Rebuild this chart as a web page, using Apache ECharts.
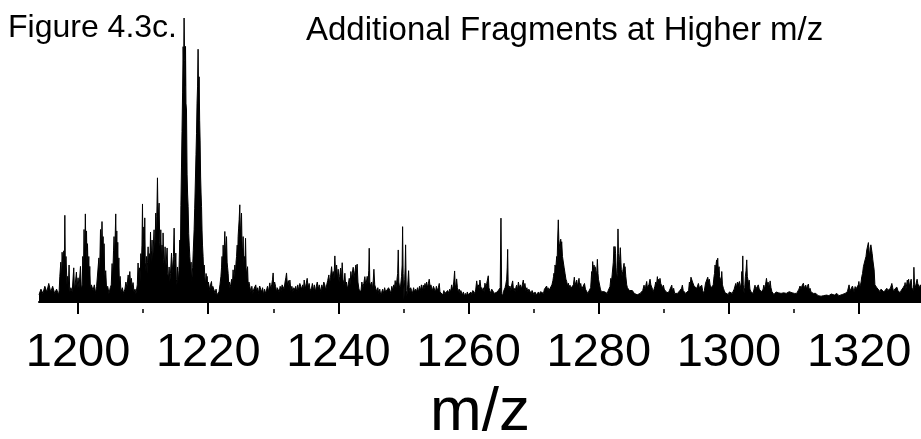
<!DOCTYPE html>
<html>
<head>
<meta charset="utf-8">
<title>Figure 4.3c</title>
<script src="https://cdn.jsdelivr.net/npm/echarts@6/dist/echarts.min.js"></script>
<style>
  html, body { margin: 0; padding: 0; background: #fff; }
  #chart { width: 921px; height: 439px; }
</style>
</head>
<body>
<div id="chart"></div>
<script>
// spectrum: [m/z, relative intensity %]
var lowMassPeaks = [
  [1194.0, 2.5], [1194.3, 4.5], [1194.6, 3], [1194.9, 5.5], [1195.2, 3.5], [1195.5, 6.5], [1195.8, 3.5],
  [1196.1, 5.5], [1196.4, 3], [1196.7, 4.5], [1197.0, 2.5], [1197.1, 4], [1197.2, 9], [1197.35, 14],
  [1197.45, 8], [1197.55, 17.5], [1197.7, 12], [1197.8, 18], [1197.9, 10], [1197.97, 30.5], [1198.05, 12],
  [1198.15, 16], [1198.3, 6], [1198.4, 9], [1198.5, 4], [1198.62, 13], [1198.72, 3.5], [1198.9, 5],
  [1199.1, 3.5], [1199.34, 12], [1199.45, 4], [1199.6, 7], [1199.75, 10.5], [1199.85, 5], [1200.0, 8.5],
  [1200.15, 5], [1200.37, 12.5], [1200.5, 4.5], [1200.65, 6], [1200.72, 16], [1200.82, 9], [1200.92, 25.5],
  [1201.02, 14], [1201.12, 31], [1201.2, 18], [1201.3, 25], [1201.38, 12], [1201.45, 20.5], [1201.55, 10],
  [1201.65, 16], [1201.72, 8], [1201.8, 12.5], [1201.9, 4.5], [1202.05, 6], [1202.3, 4], [1202.5, 6],
  [1202.7, 3], [1202.85, 5.5], [1203.05, 6], [1203.2, 15.5], [1203.3, 9], [1203.45, 25.5], [1203.55, 16],
  [1203.68, 28.3], [1203.76, 19], [1203.85, 23], [1203.93, 12], [1204.0, 20.5], [1204.1, 9], [1204.25, 11],
  [1204.38, 4.5], [1204.55, 5.5], [1204.75, 3], [1204.95, 5], [1205.1, 6], [1205.23, 13.5], [1205.32, 8],
  [1205.45, 18], [1205.53, 23], [1205.62, 15], [1205.79, 31], [1205.87, 17], [1205.95, 25], [1206.03, 14],
  [1206.1, 21], [1206.18, 10], [1206.27, 15.5], [1206.35, 6], [1206.46, 9], [1206.6, 3.5], [1206.8, 5],
  [1207.0, 3], [1207.2, 4.5], [1207.35, 7], [1207.5, 5], [1207.7, 9.5], [1207.8, 6.5], [1207.95, 10.7],
  [1208.05, 7], [1208.2, 8.3], [1208.3, 5], [1208.45, 6.8], [1208.6, 3.5], [1208.75, 4.5], [1208.9, 3]
];

var mainCluster = [
  [1209.1, 6], [1209.22, 13.7], [1209.32, 8], [1209.45, 12], [1209.55, 7], [1209.64, 17], [1209.72, 11],
  [1209.82, 20], [1209.9, 34.5], [1209.97, 18], [1210.05, 22], [1210.1, 26.4], [1210.17, 16], [1210.25, 29.6],
  [1210.33, 14], [1210.42, 11], [1210.51, 16], [1210.6, 10], [1210.68, 14], [1210.76, 19.4], [1210.85, 12],
  [1210.95, 17], [1211.05, 13], [1211.13, 24.6], [1211.22, 14], [1211.3, 18], [1211.37, 21.8], [1211.45, 13],
  [1211.55, 19], [1211.68, 25.4], [1211.76, 17], [1211.85, 22], [1211.94, 31.3], [1212.02, 20], [1212.1, 30],
  [1212.2, 43.7], [1212.3, 28], [1212.38, 32], [1212.45, 34.8], [1212.55, 21], [1212.63, 18], [1212.71, 25.4],
  [1212.8, 15], [1212.9, 20], [1213.0, 14], [1213.06, 24.3], [1213.15, 15], [1213.25, 12], [1213.37, 19.4],
  [1213.45, 11], [1213.55, 14], [1213.68, 19], [1213.78, 10], [1213.88, 8], [1213.99, 12.3], [1214.1, 7],
  [1214.2, 10], [1214.36, 17.2], [1214.45, 10], [1214.55, 13], [1214.65, 16], [1214.76, 26], [1214.85, 14],
  [1214.92, 12], [1215.02, 17.2], [1215.1, 8], [1215.2, 6], [1215.28, 12.3], [1215.4, 7], [1215.5, 11],
  [1215.63, 21.8], [1215.72, 16], [1215.8, 34], [1215.89, 47.5], [1215.97, 60], [1216.06, 73.6], [1216.14, 89.9],
  [1216.22, 82], [1216.29, 100], [1216.37, 85], [1216.45, 76], [1216.51, 90], [1216.58, 70], [1216.66, 67.6],
  [1216.75, 45], [1216.83, 38], [1216.91, 33.6], [1217.0, 24], [1217.08, 20], [1217.17, 16], [1217.27, 12],
  [1217.37, 14], [1217.45, 7], [1217.52, 9], [1217.6, 12], [1217.7, 18], [1217.83, 25.4], [1217.92, 33],
  [1218.04, 44], [1218.12, 52], [1218.2, 59.4], [1218.28, 70], [1218.36, 76], [1218.44, 89], [1218.52, 72],
  [1218.6, 79.3], [1218.68, 64], [1218.75, 57], [1218.83, 44], [1218.9, 38], [1218.97, 33.6], [1219.05, 25],
  [1219.12, 20], [1219.21, 16], [1219.3, 10], [1219.38, 13], [1219.47, 9], [1219.57, 6], [1219.67, 10],
  [1219.75, 7], [1219.83, 9], [1219.93, 5], [1220.02, 7], [1220.14, 6.7], [1220.25, 4], [1220.35, 6],
  [1220.5, 7.2], [1220.6, 4], [1220.7, 5.5], [1220.9, 5.4], [1221.05, 3], [1221.2, 4.5], [1221.35, 2.5],
  [1221.52, 1.9], [1221.65, 3.5], [1221.8, 6], [1221.95, 9], [1222.04, 12], [1222.12, 16], [1222.2, 11],
  [1222.29, 20], [1222.38, 14], [1222.46, 19], [1222.55, 24.8], [1222.63, 16], [1222.72, 20], [1222.81, 23],
  [1222.9, 14], [1222.98, 12], [1223.06, 10], [1223.15, 6], [1223.25, 7], [1223.32, 5], [1223.45, 6],
  [1223.6, 8], [1223.72, 6], [1223.82, 11.3], [1223.92, 7], [1224.0, 10], [1224.09, 13], [1224.18, 9],
  [1224.27, 14], [1224.35, 16], [1224.45, 20], [1224.52, 15], [1224.59, 23], [1224.67, 26], [1224.75, 29],
  [1224.85, 34.2], [1224.93, 24], [1225.02, 27], [1225.11, 31.3], [1225.2, 19], [1225.28, 18], [1225.36, 23],
  [1225.45, 13], [1225.55, 16], [1225.64, 14], [1225.73, 22.4], [1225.82, 12], [1225.92, 9], [1226.04, 12.4],
  [1226.15, 5], [1226.25, 7], [1226.39, 5.4]
];

var midRange = [
  [1226.55, 3.5], [1226.7, 5.5], [1226.85, 3], [1227.0, 4.5], [1227.16, 4.2], [1227.3, 6], [1227.45, 3.5],
  [1227.6, 5], [1227.75, 3], [1227.9, 5.6], [1228.08, 5.4], [1228.2, 3.5], [1228.35, 5], [1228.5, 2.5],
  [1228.65, 4.5], [1228.8, 3], [1228.96, 4.2], [1229.1, 5.5], [1229.25, 3.5], [1229.46, 6.7], [1229.6, 4.5],
  [1229.75, 6], [1229.88, 8], [1229.97, 10.2], [1230.07, 5], [1230.2, 7], [1230.34, 5.5], [1230.5, 3.5],
  [1230.6, 5], [1230.74, 5.4], [1230.9, 3.5], [1231.05, 5.5], [1231.2, 4], [1231.35, 6], [1231.51, 6.7],
  [1231.65, 4.5], [1231.8, 7], [1231.92, 8.5], [1232.03, 10.2], [1232.15, 6], [1232.3, 7.5], [1232.45, 5],
  [1232.54, 7.7], [1232.7, 4], [1232.85, 5.5], [1233.0, 3.5], [1233.15, 5], [1233.31, 4.2], [1233.45, 5.5],
  [1233.6, 3.5], [1233.75, 6], [1233.9, 4], [1234.07, 6.5], [1234.23, 7.2], [1234.35, 4.5], [1234.5, 6],
  [1234.62, 4], [1234.74, 7.7], [1234.9, 4.5], [1235.05, 6.5], [1235.2, 8.3], [1235.35, 5], [1235.5, 6.5],
  [1235.65, 4], [1235.87, 4.9], [1236.0, 6.5], [1236.15, 4], [1236.3, 6], [1236.45, 3.5], [1236.6, 5.5],
  [1236.75, 7], [1236.9, 4.5], [1237.05, 6], [1237.15, 5.6], [1237.3, 3.5], [1237.45, 6], [1237.6, 4.5],
  [1237.75, 7], [1237.92, 5.9], [1238.05, 4], [1238.2, 6], [1238.35, 7.5], [1238.53, 9.5], [1238.65, 6.5],
  [1238.78, 8.5], [1238.95, 12.4], [1239.07, 9], [1239.2, 10.7], [1239.32, 8], [1239.45, 16.2], [1239.58, 9],
  [1239.72, 13], [1239.85, 8], [1239.96, 11.5], [1240.1, 7], [1240.2, 9], [1240.33, 11.9], [1240.45, 7.5],
  [1240.58, 13.8], [1240.7, 8], [1240.85, 6], [1240.99, 10.1], [1241.12, 5.5], [1241.25, 7], [1241.35, 4.5],
  [1241.5, 6], [1241.66, 8.3], [1241.8, 6], [1241.91, 10.7], [1242.02, 8], [1242.15, 10.5], [1242.27, 12.2],
  [1242.4, 8.5], [1242.55, 11], [1242.69, 13], [1242.8, 10], [1242.88, 13.3], [1243.0, 7], [1243.15, 4.5],
  [1243.3, 4.8], [1243.45, 3.5], [1243.6, 7], [1243.75, 5], [1243.9, 6.5], [1244.06, 8.9], [1244.2, 6],
  [1244.3, 7], [1244.42, 9], [1244.55, 6.5], [1244.66, 11], [1244.73, 18.9], [1244.82, 7], [1244.95, 5.5],
  [1245.1, 7], [1245.22, 4.5], [1245.35, 7.5], [1245.45, 11.5], [1245.58, 6], [1245.76, 5.9], [1245.9, 3.5],
  [1246.05, 5], [1246.2, 3], [1246.35, 4.5], [1246.5, 2.5], [1246.63, 3.3], [1246.8, 4.5], [1246.95, 3],
  [1247.1, 5], [1247.25, 3.5], [1247.4, 4], [1247.55, 3], [1247.7, 5], [1247.91, 4], [1248.05, 3],
  [1248.2, 5.5], [1248.35, 4], [1248.5, 6], [1248.6, 4.5], [1248.72, 7.5], [1248.85, 5], [1249.0, 8],
  [1249.1, 10], [1249.19, 18.3], [1249.28, 7], [1249.4, 5], [1249.56, 5.9], [1249.7, 9], [1249.79, 13],
  [1249.86, 26.5], [1249.94, 10], [1250.06, 0.7], [1250.18, 8], [1250.25, 12], [1250.32, 20.1], [1250.42, 4],
  [1250.52, 2], [1250.65, 6], [1250.78, 11], [1250.88, 5], [1251.0, 3.5], [1251.1, 5], [1251.24, 4],
  [1251.38, 3], [1251.55, 5], [1251.7, 3.5], [1251.85, 4.5], [1252.01, 3.6], [1252.15, 5], [1252.3, 3.5],
  [1252.45, 5.5], [1252.6, 4], [1252.75, 6], [1252.9, 4], [1253.03, 5.9], [1253.15, 4.5], [1253.3, 6.5],
  [1253.42, 5], [1253.55, 7], [1253.7, 5], [1253.82, 6.5], [1253.95, 8], [1254.1, 5], [1254.2, 6],
  [1254.32, 5.9], [1254.45, 4], [1254.6, 5.5], [1254.75, 4.8], [1254.9, 3.5], [1255.05, 5.5], [1255.2, 4],
  [1255.35, 5], [1255.49, 6.5], [1255.6, 3.5], [1255.75, 4], [1255.9, 3.6], [1256.05, 2.5], [1256.2, 4],
  [1256.35, 3], [1256.5, 3.5], [1256.65, 2.5], [1256.8, 4], [1256.95, 3], [1257.1, 4.5], [1257.25, 3.5],
  [1257.39, 6], [1257.5, 4], [1257.62, 5.5], [1257.72, 7], [1257.85, 10.9], [1257.95, 5], [1258.05, 6],
  [1258.16, 8.1], [1258.28, 5], [1258.4, 3.5], [1258.55, 4.5], [1258.7, 3], [1258.8, 4], [1258.93, 3.6],
  [1259.05, 2.5], [1259.2, 3.5], [1259.35, 2], [1259.5, 3], [1259.65, 2], [1259.8, 3.5], [1259.95, 2.5],
  [1260.2, 2], [1260.35, 3.5], [1260.5, 2.5], [1260.65, 4], [1260.8, 3.6], [1260.95, 3], [1261.1, 4.5],
  [1261.24, 7.4], [1261.38, 5], [1261.5, 6], [1261.62, 4.5], [1261.74, 7.7], [1261.87, 5.4], [1262.0, 5.4],
  [1262.12, 4], [1262.25, 5], [1262.38, 3.5], [1262.51, 6.6], [1262.65, 5], [1262.78, 6.5], [1262.9, 7],
  [1263.02, 9.2], [1263.12, 5], [1263.25, 4], [1263.4, 3], [1263.55, 4.5], [1263.79, 4], [1263.95, 3],
  [1264.1, 3.5], [1264.25, 2.5], [1264.4, 3.5], [1264.55, 3], [1264.7, 4], [1264.85, 5], [1264.97, 29.5],
  [1265.08, 3], [1265.23, 2], [1265.35, 3.6], [1265.5, 4], [1265.6, 5], [1265.7, 6], [1265.85, 8],
  [1265.93, 12], [1266.0, 18.5], [1266.08, 6], [1266.2, 4.8], [1266.35, 5.6], [1266.5, 4], [1266.62, 6],
  [1266.77, 7.4], [1266.9, 4], [1267.0, 4.8], [1267.15, 3.5], [1267.25, 5], [1267.38, 5.9], [1267.5, 4],
  [1267.65, 7], [1267.8, 5], [1267.95, 6], [1268.1, 4.5], [1268.25, 6], [1268.4, 7.7], [1268.52, 5],
  [1268.65, 6.5], [1268.8, 4], [1268.95, 5], [1269.1, 3.5], [1269.25, 4.5], [1269.43, 4], [1269.6, 3],
  [1269.75, 4], [1269.9, 3.6], [1270.05, 2.5], [1270.2, 3.5], [1270.35, 2.5], [1270.46, 3], [1270.6, 2.5],
  [1270.75, 3.5], [1270.9, 2.5], [1271.05, 3.6], [1271.2, 3], [1271.35, 4], [1271.5, 3], [1271.65, 4.5],
  [1271.8, 4], [1271.99, 5.6], [1272.1, 4], [1272.2, 5], [1272.35, 4], [1272.5, 3.5], [1272.65, 4.5],
  [1272.8, 6], [1272.95, 7.5], [1273.05, 9], [1273.12, 10.1], [1273.2, 8.5], [1273.27, 13], [1273.4, 12],
  [1273.53, 16], [1273.6, 14], [1273.68, 21.8], [1273.78, 28.9], [1273.86, 22], [1273.93, 20.7], [1274.05, 18],
  [1274.15, 22.1], [1274.22, 19], [1274.3, 21.2], [1274.42, 16], [1274.55, 15.4], [1274.68, 12], [1274.81, 10.1],
  [1274.95, 8], [1275.07, 7.2], [1275.2, 5.5], [1275.32, 6.6], [1275.45, 5], [1275.57, 5.9], [1275.7, 4.8],
  [1275.85, 5.5], [1275.98, 4.5], [1276.1, 6], [1276.24, 8.7], [1276.35, 5.9], [1276.48, 6.5], [1276.61, 7.7],
  [1276.72, 5.5], [1276.85, 7], [1276.96, 8.3], [1277.1, 5], [1277.22, 6.5], [1277.38, 4.5], [1277.53, 5.2],
  [1277.65, 4.5], [1277.8, 6.5], [1277.95, 4.5], [1278.14, 4], [1278.3, 3], [1278.45, 3.6], [1278.6, 3],
  [1278.75, 5], [1278.91, 10.7], [1278.98, 8], [1279.06, 14.2], [1279.15, 11], [1279.27, 13], [1279.35, 10],
  [1279.42, 12.4], [1279.52, 11.3], [1279.62, 9], [1279.7, 11], [1279.78, 15], [1279.88, 10], [1279.95, 8],
  [1280.1, 7.7], [1280.25, 4.5], [1280.4, 3.6], [1280.55, 3], [1280.7, 3], [1280.85, 3.6], [1281.0, 3],
  [1281.15, 3.6], [1281.3, 3], [1281.45, 4], [1281.6, 4.5], [1281.72, 5.4], [1281.85, 8.3], [1281.95, 7],
  [1282.05, 9.5], [1282.13, 9.5], [1282.23, 14], [1282.33, 19.5], [1282.42, 16], [1282.49, 19.5], [1282.58, 17],
  [1282.66, 12], [1282.75, 7.7], [1282.85, 10], [1282.95, 25.7], [1283.02, 17], [1283.1, 13.7], [1283.2, 15],
  [1283.31, 19.1], [1283.4, 14], [1283.46, 11.3], [1283.57, 9], [1283.68, 10.7], [1283.78, 11], [1283.88, 13.6],
  [1283.96, 11], [1284.03, 12.4], [1284.15, 9], [1284.29, 6], [1284.4, 5], [1284.55, 4.8], [1284.7, 4],
  [1284.85, 4.5], [1285.0, 3.6], [1285.15, 4], [1285.3, 3.6], [1285.45, 3], [1285.6, 3.5], [1285.75, 3],
  [1285.9, 2.5], [1286.05, 3], [1286.2, 2.5], [1286.35, 3], [1286.6, 2.6], [1286.75, 4], [1286.95, 5.9],
  [1287.08, 4.5], [1287.2, 5.5], [1287.36, 7.2], [1287.47, 5], [1287.58, 5.5], [1287.7, 6], [1287.87, 8],
  [1288.0, 6], [1288.1, 5.6], [1288.25, 4.5], [1288.38, 3.6], [1288.5, 4], [1288.62, 5.5], [1288.75, 7],
  [1288.87, 6], [1289.0, 8.9], [1289.1, 6], [1289.2, 8], [1289.3, 6.5], [1289.4, 8.3], [1289.52, 6.5],
  [1289.66, 7], [1289.78, 5], [1289.92, 5.9], [1290.05, 4.5], [1290.2, 4.8], [1290.35, 3.5], [1290.5, 4],
  [1290.68, 3.2], [1290.85, 4], [1291.0, 4.5], [1291.1, 3.5], [1291.21, 5.9], [1291.35, 3.5], [1291.5, 4.8],
  [1291.65, 3], [1291.8, 3.5], [1291.95, 2.6], [1292.1, 3], [1292.3, 3.6], [1292.45, 4], [1292.6, 3.5],
  [1292.72, 4.8], [1292.84, 5.9], [1292.97, 4], [1293.1, 4.5], [1293.2, 3.5], [1293.35, 3], [1293.5, 2.6],
  [1293.65, 3.5], [1293.8, 4], [1293.92, 7], [1294.04, 6], [1294.16, 8.7], [1294.28, 8.7], [1294.4, 7],
  [1294.53, 7], [1294.65, 5.5], [1294.78, 5.9], [1294.92, 4.8], [1295.06, 4.8], [1295.18, 5.5], [1295.3, 6.5],
  [1295.45, 5], [1295.56, 4.5], [1295.68, 5.5], [1295.81, 5.9], [1295.95, 4]
];

var highMassPeaks = [
  [1296.1, 3], [1296.22, 4], [1296.4, 6.6], [1296.55, 7], [1296.74, 8.7], [1296.86, 7], [1296.98, 8],
  [1297.1, 5.9], [1297.22, 6], [1297.33, 5], [1297.45, 4.8], [1297.58, 6], [1297.7, 8.9], [1297.78, 10],
  [1297.86, 13], [1297.95, 11], [1298.05, 14], [1298.12, 14.8], [1298.2, 12], [1298.27, 15.4], [1298.36, 11],
  [1298.48, 12.4], [1298.56, 9], [1298.63, 8.3], [1298.72, 9], [1298.82, 7], [1298.89, 10.7], [1299.0, 6],
  [1299.14, 4.8], [1299.27, 4], [1299.4, 3.2], [1299.55, 3.5], [1299.7, 3], [1299.9, 2.6], [1300.05, 3.5],
  [1300.2, 3.2], [1300.35, 4], [1300.5, 3], [1300.68, 3], [1300.8, 4.5], [1300.92, 5], [1301.04, 6.5],
  [1301.15, 5], [1301.3, 7], [1301.45, 6], [1301.6, 7.2], [1301.72, 4.5], [1301.82, 6], [1301.9, 7],
  [1301.97, 10.7], [1302.05, 8], [1302.12, 16.2], [1302.2, 6], [1302.32, 3], [1302.42, 5], [1302.52, 9],
  [1302.62, 11], [1302.73, 14.8], [1302.82, 9], [1302.93, 7.5], [1303.02, 6], [1303.1, 7.7], [1303.22, 4.5],
  [1303.36, 3.6], [1303.5, 4], [1303.7, 3], [1303.85, 4.5], [1304.0, 5.9], [1304.12, 4.5], [1304.25, 5],
  [1304.38, 4], [1304.5, 6], [1304.65, 4.5], [1304.85, 4.8], [1305.0, 3.5], [1305.15, 3], [1305.25, 4.5],
  [1305.35, 5.9], [1305.48, 4.5], [1305.6, 6], [1305.68, 7], [1305.76, 8.3], [1305.88, 6], [1306.0, 7],
  [1306.1, 6], [1306.2, 5], [1306.32, 7.4], [1306.45, 5], [1306.6, 3.6], [1306.75, 3.5], [1306.9, 2.6],
  [1307.08, 2.6], [1307.25, 3.5], [1307.4, 3], [1307.6, 3.2], [1307.8, 2.6], [1308.0, 3], [1308.2, 2.6],
  [1308.4, 3.2], [1308.62, 3.4], [1308.8, 3], [1308.95, 3.6], [1309.1, 3], [1309.25, 3.6], [1309.39, 4],
  [1309.55, 3], [1309.7, 3.2], [1309.9, 2.6], [1310.05, 3], [1310.2, 2.6], [1310.4, 3], [1310.6, 3.6],
  [1310.75, 4.5], [1310.92, 5.6], [1311.05, 4.5], [1311.18, 5.5], [1311.3, 5], [1311.43, 6.6], [1311.55, 5],
  [1311.68, 5.6], [1311.8, 5.9], [1311.93, 4.5], [1312.05, 5.5], [1312.2, 6.3], [1312.32, 4], [1312.45, 4.8],
  [1312.6, 3.5], [1312.8, 3.2], [1312.97, 3], [1313.15, 2.6], [1313.35, 3], [1313.5, 2.6], [1313.7, 2.2],
  [1313.85, 2.8], [1313.99, 2.6], [1314.15, 2], [1314.3, 2.6], [1314.5, 2.2], [1314.65, 2.8], [1314.8, 2],
  [1315.0, 2.4], [1315.2, 2.8], [1315.35, 2.2], [1315.53, 2], [1315.7, 2.8], [1315.85, 2.2], [1316.0, 2.6],
  [1316.2, 2.4], [1316.4, 3], [1316.56, 3], [1316.7, 2.4], [1316.9, 2.2], [1317.05, 2.8], [1317.2, 2.2],
  [1317.4, 2.6], [1317.55, 2.8], [1317.7, 2.4], [1317.85, 3], [1318.0, 3.4], [1318.19, 3.6], [1318.3, 4],
  [1318.45, 6], [1318.58, 3.8], [1318.7, 4.5], [1318.85, 4], [1318.97, 5.6], [1319.1, 4.5], [1319.22, 3.5],
  [1319.38, 5.4], [1319.5, 4.5], [1319.6, 4.2], [1319.75, 5], [1319.87, 6], [1319.96, 7.2], [1320.08, 5],
  [1320.2, 6], [1320.3, 7], [1320.4, 8.9], [1320.52, 10], [1320.65, 12.4], [1320.78, 13], [1320.91, 14.8],
  [1321.05, 16], [1321.17, 18.3], [1321.3, 19], [1321.42, 20.9], [1321.5, 18.2], [1321.6, 16], [1321.7, 19],
  [1321.8, 20.1], [1321.9, 19.5], [1322.0, 17], [1322.1, 14.8], [1322.2, 13], [1322.3, 11.3], [1322.42, 6],
  [1322.55, 5.5], [1322.72, 5], [1322.85, 4.8], [1323.0, 4.4], [1323.22, 3.6], [1323.35, 4.5], [1323.5, 4],
  [1323.65, 4.2], [1323.8, 3.5], [1323.9, 3], [1324.05, 3.8], [1324.25, 4.8], [1324.4, 4], [1324.6, 3.5],
  [1324.8, 4.8], [1325.02, 6.5], [1325.15, 5], [1325.3, 3.4], [1325.45, 4.5], [1325.62, 4.5], [1325.79, 5.2],
  [1325.95, 4], [1326.1, 4.2], [1326.29, 3.2], [1326.45, 4], [1326.6, 4.4], [1326.75, 5], [1326.9, 4.5],
  [1327.0, 6], [1327.06, 6.8], [1327.18, 4.4], [1327.28, 5], [1327.4, 7.7], [1327.5, 6], [1327.6, 8],
  [1327.72, 5.5], [1327.82, 6], [1327.92, 5], [1327.99, 8], [1328.1, 5], [1328.2, 4.4], [1328.3, 4],
  [1328.36, 6], [1328.41, 12.2], [1328.5, 6], [1328.62, 5], [1328.75, 6.5], [1328.9, 8], [1329.0, 6.5],
  [1329.1, 7], [1329.25, 5], [1329.4, 6], [1329.55, 5]
];

var majorTicks = [1200, 1220, 1240, 1260, 1280, 1300, 1320];
var minorTicks = [1210, 1230, 1250, 1270, 1290, 1310];

var spectrum = [].concat(lowMassPeaks, mainCluster, midRange, highMassPeaks);

var font = 'Liberation Sans, Arial, Helvetica, sans-serif';
var myChart = echarts.init(document.getElementById('chart'));
myChart.setOption({
  animation: false,
  backgroundColor: '#fff',
  title: [
    {
      text: 'Figure 4.3c.',
      left: 8,
      top: 12,
      padding: 0,
      textStyle: { fontFamily: font, fontSize: 32, fontWeight: 'normal', color: '#000' }
    },
    {
      text: 'Additional Fragments at Higher m/z',
      left: 306,
      top: 14,
      padding: 0,
      textStyle: { fontFamily: font, fontSize: 33, fontWeight: 'normal', color: '#000' }
    }
  ],
  grid: { left: 39, right: 0, top: 18, bottom: 130, containLabel: false, outerBoundsMode: 'none' },
  xAxis: [
    {
      type: 'value',
      min: 1194,
      max: 1329.5,
      name: 'm/z',
      nameLocation: 'middle',
      nameGap: 62,
      nameTextStyle: { fontFamily: font, fontSize: 62, color: '#000' },
      axisLine: { lineStyle: { color: '#000', width: 2 } },
      axisTick: { customValues: majorTicks, length: 12, lineStyle: { color: '#000', width: 2 } },
      axisLabel: {
        customValues: majorTicks,
        formatter: function (v) { return String(v); },
        fontFamily: font,
        fontSize: 47,
        color: '#000',
        margin: 21
      },
      splitLine: { show: false }
    },
    {
      type: 'value',
      min: 1194,
      max: 1329.5,
      position: 'bottom',
      axisLine: { show: false },
      axisTick: { customValues: minorTicks, length: 4, lineStyle: { color: '#000', width: 1.5 } },
      axisLabel: { show: false },
      splitLine: { show: false }
    }
  ],
  yAxis: {
    type: 'value',
    min: -2.5,
    max: 100,
    show: false
  },
  series: [
    {
      type: 'line',
      data: spectrum,
      showSymbol: false,
      silent: true,
      lineStyle: { color: '#000', width: 1 },
      areaStyle: { color: '#000', opacity: 1 }
    }
  ]
});
</script>
</body>
</html>
